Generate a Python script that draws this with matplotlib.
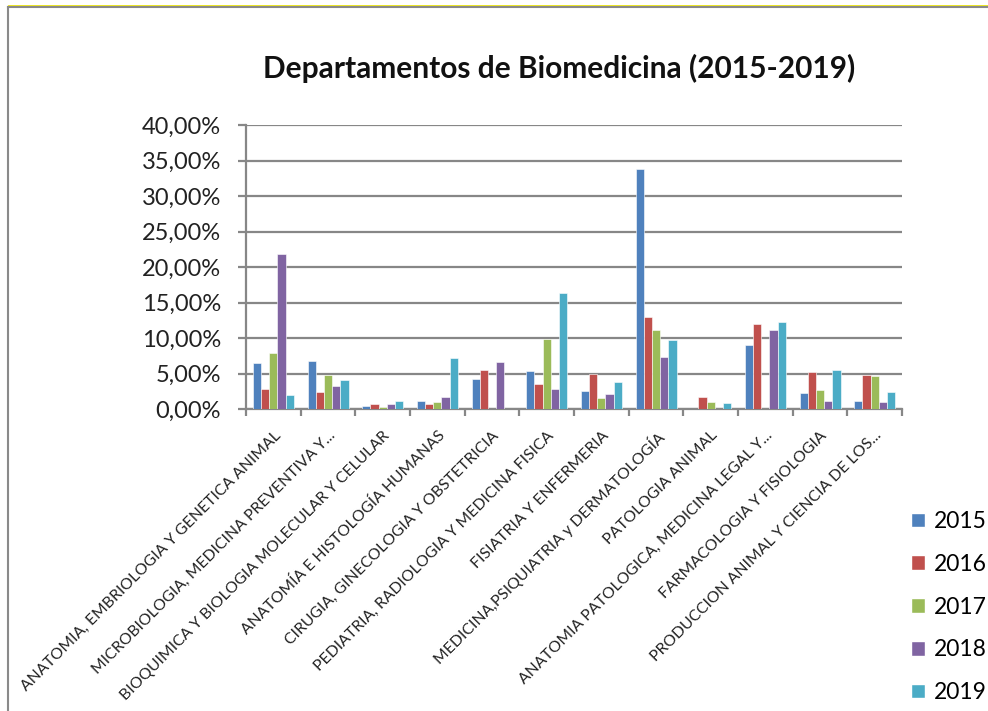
import numpy as np
import matplotlib
matplotlib.use("Agg")
import matplotlib.pyplot as plt
from matplotlib.lines import Line2D
from matplotlib.patches import Patch
from matplotlib.ticker import FuncFormatter

plt.rcParams["font.family"] = ["Lato", "DejaVu Sans"]

departamentos = [
    "ANATOMIA, EMBRIOLOGIA Y GENETICA ANIMAL",
    "MICROBIOLOGIA, MEDICINA PREVENTIVA Y...",
    "BIOQUIMICA Y BIOLOGIA MOLECULAR Y CELULAR",
    "ANATOMÍA E HISTOLOGÍA HUMANAS",
    "CIRUGIA, GINECOLOGIA Y OBSTETRICIA",
    "PEDIATRIA, RADIOLOGIA Y MEDICINA FISICA",
    "FISIATRIA Y ENFERMERIA",
    "MEDICINA,PSIQUIATRIA y DERMATOLOGÍA",
    "PATOLOGIA ANIMAL",
    "ANATOMIA PATOLOGICA, MEDICINA LEGAL Y...",
    "FARMACOLOGIA Y FISIOLOGIA",
    "PRODUCCION ANIMAL Y CIENCIA DE LOS...",
]
years = ["2015", "2016", "2017", "2018", "2019"]

# porcentajes por año
v2015 = [6.43, 6.76, 0.47, 1.17, 4.27, 5.35, 2.58, 33.85, 0.0, 8.96, 2.25, 1.17]
v2016 = [2.77, 2.44, 0.66, 0.66, 5.54, 3.52, 4.98, 12.90, 1.74, 12.00, 5.16, 4.79]
v2017 = [7.84, 4.79, 0.23, 0.98, 0.0, 9.90, 1.55, 11.10, 0.99, 0.0, 2.62, 4.60]
v2018 = [21.80, 3.19, 0.66, 1.74, 6.57, 2.77, 2.07, 7.30, 0.0, 11.10, 1.17, 0.98]
v2019 = [1.92, 4.08, 1.17, 7.13, 0.0, 16.34, 3.85, 9.70, 0.80, 12.20, 5.54, 2.44]
series = [v2015, v2016, v2017, v2018, v2019]
colors = ["#4F81BD", "#C0504D", "#9BBB59", "#8064A2", "#4BACC6"]

grid_color = "#878787"

fig = plt.figure(figsize=(9.88, 7.11), dpi=100)
ax = fig.add_axes([246 / 988, 1 - 409 / 711, 656 / 988, 284 / 711])

x = np.arange(len(departamentos))
w = 0.15
for i, (vals, c) in enumerate(zip(series, colors)):
    ax.bar(x + (i - 2) * w, vals, w, color=c, edgecolor="white", linewidth=0.4, zorder=3)

ax.set_xlim(-0.5, len(departamentos) - 0.5)
ax.set_ylim(0, 40)
ax.set_yticks(np.arange(0, 41, 5))
ax.yaxis.set_major_formatter(FuncFormatter(lambda v, p: f"{v:.2f}%".replace(".", ",")))
ax.grid(axis="y", color=grid_color, linewidth=1.6, zorder=0)
ax.tick_params(axis="y", length=6, width=1.6, color=grid_color, pad=12, labelsize=17, labelcolor="#222222")

for s in ["top", "right"]:
    ax.spines[s].set_visible(False)
for s in ["left", "bottom"]:
    ax.spines[s].set_color(grid_color)
    ax.spines[s].set_linewidth(1.6)

# tick marks between categories, labels at centres
ax.set_xticks(x)
ax.set_xticks(np.arange(-0.5, len(departamentos)), minor=True)
ax.set_xticklabels(departamentos, rotation=45, ha="right", va="top", rotation_mode="anchor",
                   fontsize=11.3, color="#222222")
ax.tick_params(axis="x", which="major", length=0, pad=14)
ax.tick_params(axis="x", which="minor", length=5, width=1.6, color=grid_color)

fig.text(559 / 988, 1 - 68 / 711, "Departamentos de Biomedicina (2015-2019)",
         ha="center", va="center", fontsize=21.5, fontweight="bold", color="#111111")

handles = [Patch(facecolor=c, edgecolor="white", label=y) for c, y in zip(colors, years)]
fig.legend(handles=handles, loc="upper left", bbox_to_anchor=(911 / 988, 1 - 511 / 711),
           frameon=False, fontsize=16.5, handlelength=0.6, handleheight=0.6,
           handletextpad=0.4, labelspacing=0.95, borderaxespad=0, borderpad=0)

# marco del gráfico
fig.add_artist(Line2D([8 / 988, 1], [1 - 7 / 711, 1 - 7 / 711], color="#8a8a8a", linewidth=1.5))
fig.add_artist(Line2D([8 / 988, 8 / 988], [0, 1 - 7 / 711], color="#8a8a8a", linewidth=1.5))
fig.add_artist(Line2D([8 / 988, 1], [1 - 5 / 711, 1 - 5 / 711], color="#e8e000", linewidth=0.6))

fig.savefig("out.png", dpi=100)
